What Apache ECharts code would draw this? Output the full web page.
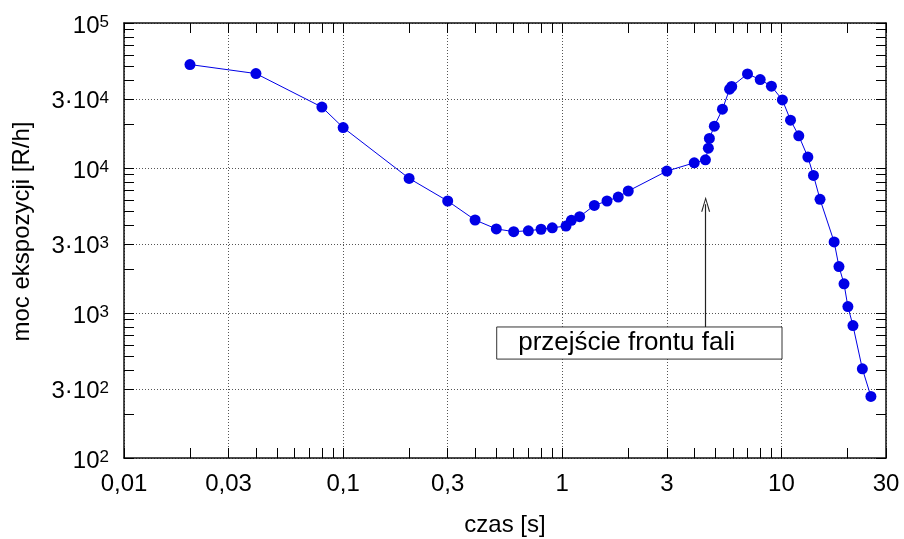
<!DOCTYPE html>
<html>
<head>
<meta charset="utf-8">
<script src="https://cdn.jsdelivr.net/npm/echarts@6/dist/echarts.min.js"></script>
<style>
html,body{margin:0;padding:0;background:#fff;}
#c{width:904px;height:539px;}
</style>
</head>
<body>
<div id="c"></div>
<script>
// ---- data ----
const czas = [0.02, 0.04, 0.08, 0.1, 0.2, 0.3, 0.4, 0.5, 0.6, 0.7, 0.8, 0.9, 1.04, 1.1, 1.2, 1.4, 1.6, 1.8, 2.0, 3.0, 4.0, 4.5, 4.64, 4.69, 4.94, 5.38, 5.8, 5.93, 7.0, 8.0, 9.0, 10.1, 11.0, 12.0, 13.2, 14.0, 15.0, 17.4, 18.3, 19.3, 20.1, 21.2, 23.4, 25.6];
const moc = [51700, 44800, 26300, 19000, 8480, 5920, 4380, 3800, 3640, 3690, 3780, 3870, 3980, 4360, 4620, 5520, 5920, 6300, 6940, 9520, 10860, 11390, 13710, 15990, 19440, 25440, 34950, 36480, 44550, 40750, 36640, 29490, 21380, 16670, 11890, 8890, 6080, 3090, 2090, 1590, 1107, 819, 412, 266];

const xTicks = [0.01, 0.03, 0.1, 0.3, 1, 3, 10, 30];
const xTickLabels = ['0,01', '0,03', '0,1', '0,3', '1', '3', '10', '30'];
const xMinor = [0.02, 0.04, 0.05, 0.06, 0.07, 0.08, 0.09, 0.2, 0.4, 0.5, 0.6, 0.7, 0.8, 0.9, 2, 4, 5, 6, 7, 8, 9, 20];

const yTicks = [100, 300, 1000, 3000, 10000, 30000, 100000];
const yTickBase = ['10', '3·10', '10', '3·10', '10', '3·10', '10'];
const yTickExp = ['2', '2', '3', '3', '4', '4', '5'];
const yMinor = [200, 400, 500, 600, 700, 800, 900, 2000, 4000, 5000, 6000, 7000, 8000, 9000, 20000, 40000, 50000, 60000, 70000, 80000, 90000];

const annotationText = 'przejście frontu fali';
const arrowX = 4.51, arrowFrom = 801, arrowTo = 5623;
const boxX = [0.502, 10.06], boxY = [481, 801];

// ---- chart ----
const FONT = 'Liberation Sans';
function idx(arr, v) {
  for (let i = 0; i < arr.length; i++) if (Math.abs(v - arr[i]) / arr[i] < 1e-6) return i;
  return -1;
}
const xAll = xTicks.concat(xMinor);
const yAll = yTicks.concat(yMinor);
function frame() { return {color: '#111', width: 1.5}; }
function tickStyle() { return {color: '#000', width: 1}; }
function xAxisOf(pos, extra) {
  return Object.assign({type: 'log', logBase: 10, min: 0.01, max: 30, gridIndex: 0, position: pos}, extra);
}
function yAxisOf(pos, extra) {
  return Object.assign({type: 'log', logBase: 10, min: 100, max: 100000, gridIndex: 0, position: pos}, extra);
}

const chart = echarts.init(document.getElementById('c'), null, {renderer: 'canvas'});
chart.setOption({
  animation: false,
  backgroundColor: '#fff',
  textStyle: {fontFamily: FONT},
  grid: {left: 124, right: 18, top: 23, bottom: 81, containLabel: false, outerBoundsMode: 'none'},
  xAxis: [
    xAxisOf('bottom', {
      axisLine: {show: true, onZero: false, lineStyle: frame()},
      axisTick: {show: true, inside: true, length: 10, customValues: xAll.slice(), lineStyle: tickStyle()},
      axisLabel: {show: true, customValues: xTicks.slice(), margin: 14, fontSize: 24, color: '#000', fontFamily: FONT,
        formatter: v => { const i = idx(xTicks, v); return i >= 0 ? xTickLabels[i] : ''; }},
      splitLine: {show: false},
      name: 'czas [s]', nameLocation: 'middle', nameGap: 55,
      nameTextStyle: {fontSize: 24, color: '#000', fontFamily: FONT}
    }),
    xAxisOf('top', {
      axisLine: {show: true, onZero: false, lineStyle: frame()},
      axisTick: {show: true, inside: true, length: 10, customValues: xAll.slice(), lineStyle: tickStyle()},
      axisLabel: {show: false},
      splitLine: {show: false}
    }),
    xAxisOf('bottom', {
      axisLine: {show: false},
      axisTick: {show: false, customValues: xTicks.slice()},
      axisLabel: {show: false, customValues: xTicks.slice()},
      splitLine: {show: true, lineStyle: {color: '#555', width: 1, type: [1, 2]}}
    })
  ],
  yAxis: [
    yAxisOf('left', {
      axisLine: {show: true, onZero: false, lineStyle: frame()},
      axisTick: {show: true, inside: true, length: 10, customValues: yAll.slice(), lineStyle: tickStyle()},
      axisLabel: {show: true, customValues: yTicks.slice(), margin: 15, color: '#000', fontFamily: FONT,
        padding: [6, 0, 0, 0],
        formatter: v => { const i = idx(yTicks, v); return i >= 0 ? '{b|' + yTickBase[i] + '}{s|' + yTickExp[i] + '}' : ''; },
        rich: {
          b: {fontSize: 24, lineHeight: 24, color: '#000', fontFamily: FONT},
          s: {fontSize: 17, lineHeight: 8, verticalAlign: 'top', color: '#000', fontFamily: FONT}
        }},
      splitLine: {show: false},
      name: 'moc ekspozycji [R/h]', nameLocation: 'middle', nameGap: 90, nameRotate: 90,
      nameTextStyle: {fontSize: 24, color: '#000', fontFamily: FONT, padding: [0, 0, 0, 18]}
    }),
    yAxisOf('right', {
      axisLine: {show: true, onZero: false, lineStyle: frame()},
      axisTick: {show: true, inside: true, length: 10, customValues: yAll.slice(), lineStyle: tickStyle()},
      axisLabel: {show: false},
      splitLine: {show: false}
    }),
    yAxisOf('left', {
      axisLine: {show: false},
      axisTick: {show: false, customValues: yTicks.slice()},
      axisLabel: {show: false, customValues: yTicks.slice()},
      splitLine: {show: true, lineStyle: {color: '#555', width: 1, type: [1, 2]}}
    })
  ],
  series: [{
    type: 'line',
    xAxisIndex: 0, yAxisIndex: 0,
    data: czas.map((x, i) => [x, moc[i]]),
    symbol: 'circle', symbolSize: 11,
    itemStyle: {color: '#0000e6'},
    lineStyle: {color: '#0000e6', width: 1},
    markArea: {
      silent: true,
      itemStyle: {color: '#fff', borderColor: '#333', borderWidth: 1},
      label: {show: true, position: 'insideLeft', distance: 22, fontSize: 26, color: '#000', fontFamily: FONT},
      data: [[{name: annotationText, coord: [boxX[0], boxY[1]]}, {coord: [boxX[1], boxY[0]]}]]
    },
    markLine: {
      silent: true,
      symbol: ['none', 'path://M0,0 L4.5,15 L3.3,15 L0,3.2 L-3.3,15 L-4.5,15 Z'],
      symbolSize: [9, 15],
      label: {show: false},
      lineStyle: {color: '#222', width: 1.2, type: 'solid'},
      data: [[{coord: [arrowX, arrowFrom]}, {coord: [arrowX, arrowTo]}]]
    }
  }]
});
</script>
</body>
</html>
